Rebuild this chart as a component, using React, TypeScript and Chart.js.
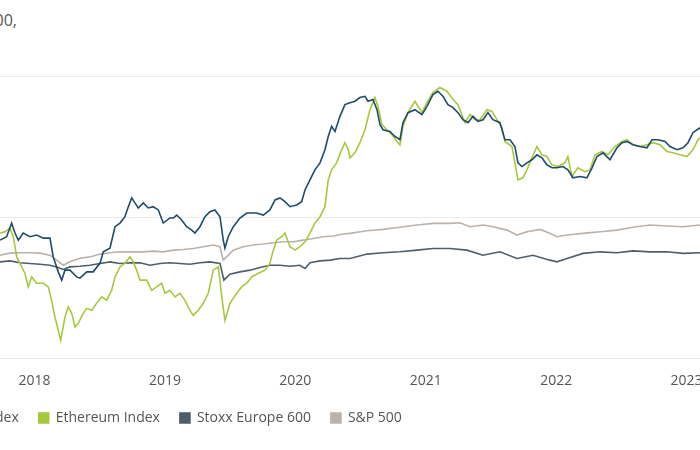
import React, { useEffect, useRef } from "react";
import { Chart, registerables } from "chart.js";

Chart.register(...registerables);

const START_YEAR = 2018;
const YEAR_TICKS = [2018, 2019, 2020, 2021, 2022, 2023];
const Y_GRID = [0, 100, 200];
const X_MIN = 2016.945;
const X_MAX = 2023.847;

// time in years since 1 Jan 2018
const btcT = [
  -0.265, -0.214, -0.176, -0.150, -0.125, -0.087, -0.035, 0.016, 0.067, 0.118,
  0.143, 0.182, 0.208, 0.233, 0.271, 0.323, 0.348, 0.400, 0.450, 0.502,
  0.527, 0.578, 0.617, 0.655, 0.693, 0.719, 0.745, 0.770, 0.795, 0.834,
  0.872, 0.910, 0.949, 0.987, 1.038, 1.064, 1.090, 1.128, 1.166, 1.205,
  1.230, 1.268, 1.307, 1.345, 1.383, 1.422, 1.447, 1.460, 1.485, 1.524,
  1.575, 1.627, 1.665, 1.703, 1.754, 1.805, 1.844, 1.882, 1.920, 1.959,
  2.010, 2.048, 2.074, 2.112, 2.150, 2.189, 2.227, 2.252, 2.278, 2.304,
  2.342, 2.380,
  2.419, 2.457, 2.495, 2.534, 2.557, 2.595, 2.626, 2.649, 2.672, 2.725,
  2.764, 2.802, 2.825, 2.864, 2.917, 2.971, 3.009, 3.055, 3.093, 3.132,
  3.170, 3.209, 3.247, 3.285, 3.324, 3.362, 3.400, 3.439, 3.477, 3.515,
  3.569, 3.607, 3.646, 3.684, 3.707, 3.738, 3.776, 3.814, 3.853, 3.891,
  3.929, 3.968, 4.006, 4.052, 4.090, 4.129, 4.183, 4.236, 4.275, 4.313,
  4.359, 4.413, 4.466, 4.505, 4.543, 4.589, 4.643, 4.696, 4.735, 4.781,
  4.835, 4.873, 4.927, 4.973, 5.011, 5.049, 5.103,
];
const btcValues = [
  83.6, 86.0, 95.7, 88.6, 83.6, 88.6, 86.0, 87.2, 85.0, 85.0,
  71.7, 61.1, 55.2, 62.3, 62.3, 57.5, 56.6, 61.1, 61.1, 67.3,
  75.3, 77.9, 93.1, 95.7, 100.2, 107.3, 113.5, 110.0, 106.4, 110.0,
  106.4, 107.3, 105.0, 95.7, 99.3, 99.3, 101.4, 97.9, 93.1, 90.7,
  88.6, 93.1, 100.2, 103.8, 105.0, 100.2, 83.6, 77.9, 86.0, 93.1,
  99.3, 102.8, 102.8, 102.8, 101.4, 105.0, 112.1, 113.5, 110.9, 107.3,
  108.5, 110.9, 119.2, 126.3, 133.4, 138.4, 147.7, 157.1, 164.3, 160.7,
  171.4, 179.7,
  181.1, 182.1, 184.7, 185.6, 182.1, 183.3, 176.1, 165.5, 161.9, 160.7,
  157.1, 154.8, 166.9, 174.0, 176.1, 172.6, 178.5, 186.8, 189.2, 185.6,
  179.7, 177.6, 174.0, 169.0, 166.9, 171.4, 167.8, 169.0, 174.0, 169.0,
  166.9, 154.8, 154.8, 150.0, 138.4, 135.8, 138.4, 140.6, 144.1, 142.0,
  137.0, 134.9, 134.9, 135.8, 133.4, 127.8, 128.7, 127.8, 134.9, 142.9,
  145.5, 140.6, 149.1, 152.7, 153.6, 151.2, 150.0, 149.1, 154.8, 154.8,
  153.6, 150.0, 147.7, 149.1, 152.7, 159.8, 163.3,
];

const ethT = [
  -0.265, -0.227, -0.189, -0.163, -0.137, -0.099, -0.074, -0.048, -0.022, 0.016,
  0.067, 0.105, 0.131, 0.156, 0.182, 0.200, 0.233, 0.258, 0.285, 0.310,
  0.335, 0.373, 0.400, 0.438, 0.476, 0.515, 0.553, 0.591, 0.617, 0.655,
  0.693, 0.732, 0.757, 0.783, 0.808, 0.860, 0.898, 0.936, 0.975, 1.000,
  1.038, 1.077, 1.115, 1.153, 1.192, 1.217, 1.255, 1.294, 1.332, 1.370,
  1.409, 1.442, 1.460, 1.498, 1.550, 1.588, 1.627, 1.665, 1.716, 1.767,
  1.805, 1.831, 1.857, 1.895, 1.920, 1.959, 1.997, 2.035, 2.074, 2.112,
  2.150, 2.189, 2.227, 2.252, 2.278, 2.316, 2.355, 2.380, 2.406,
  2.419, 2.457, 2.495, 2.534, 2.572, 2.610, 2.633, 2.664, 2.702, 2.741,
  2.779, 2.802, 2.825, 2.864, 2.917, 2.971, 3.009, 3.055, 3.109, 3.163,
  3.209, 3.247, 3.301, 3.339, 3.377, 3.416, 3.469, 3.508, 3.546, 3.584,
  3.607, 3.661, 3.684, 3.707, 3.745, 3.776, 3.814, 3.853, 3.891, 3.929,
  3.968, 4.014, 4.067, 4.090, 4.121, 4.167, 4.221, 4.259, 4.298, 4.351,
  4.397, 4.451, 4.505, 4.543, 4.589, 4.643, 4.696, 4.742, 4.796, 4.850,
  4.896, 4.949, 5.003, 5.049, 5.088, 5.103,
];
const ethValues = [
  88.6, 89.5, 92.2, 86.0, 71.7, 64.6, 60.1, 50.4, 57.5, 53.0,
  53.0, 50.4, 40.9, 29.0, 19.6, 12.5, 29.0, 36.2, 31.7, 21.9,
  24.6, 31.7, 35.2, 33.8, 38.8, 43.3, 40.9, 48.0, 57.5, 64.6,
  67.3, 71.7, 68.2, 62.3, 55.2, 55.2, 48.0, 50.4, 53.0, 45.9,
  48.0, 43.3, 45.9, 40.9, 33.8, 30.2, 33.8, 38.8, 45.9, 62.3,
  64.6, 38.8, 26.7, 38.8, 45.9, 50.4, 53.0, 57.5, 60.1, 62.3,
  67.3, 76.5, 83.6, 86.0, 88.6, 78.9, 76.5, 78.9, 82.4, 88.6,
  95.7, 100.2, 107.3, 126.3, 133.4, 138.4, 147.7, 152.7, 147.7,
  142.0, 145.5, 152.7, 161.9, 176.1, 184.7, 178.5, 165.5, 161.9, 158.4,
  153.6, 151.2, 164.3, 174.0, 182.1, 174.0, 181.1, 188.2, 191.8, 189.2,
  183.3, 179.7, 166.9, 172.6, 169.0, 169.0, 176.1, 174.9, 169.0, 163.3,
  153.6, 150.0, 138.4, 126.3, 127.8, 133.4, 142.0, 150.0, 144.1, 142.9,
  137.0, 135.8, 138.4, 142.9, 128.7, 134.9, 132.2, 133.4, 144.1, 146.5,
  144.1, 150.0, 153.6, 154.8, 151.2, 150.0, 151.2, 152.7, 151.2, 146.5,
  145.5, 144.1, 142.9, 147.7, 154.8, 156.2,
];

const stoxxT = [
  -0.265, -0.189, -0.112, -0.035, 0.041, 0.118, 0.169, 0.220, 0.271, 0.348,
  0.425, 0.502, 0.578, 0.655, 0.732, 0.808, 0.885, 0.962, 1.038, 1.115,
  1.192, 1.268, 1.345, 1.422, 1.452, 1.498, 1.575, 1.652, 1.729, 1.805,
  1.882, 1.959, 2.035, 2.074, 2.112, 2.189, 2.265, 2.342, 2.419, 2.549,
  2.672, 2.802, 2.933, 3.055, 3.186, 3.316, 3.439, 3.569, 3.699, 3.822,
  3.952, 4.006, 4.083, 4.206, 4.336, 4.466, 4.589, 4.719, 4.850, 4.973,
  5.103,
];
const stoxxValues = [
  68.2, 68.9, 67.5, 67.0, 66.5, 65.8, 64.6, 62.8, 64.6, 65.1,
  65.8, 67.0, 68.2, 67.0, 67.5, 67.5, 65.8, 67.0, 67.5, 67.0,
  66.5, 67.5, 68.2, 67.0, 55.2, 59.4, 61.1, 62.3, 64.2, 65.8,
  65.8, 65.1, 65.8, 63.5, 67.5, 68.9, 69.4, 70.6, 70.6, 73.7,
  74.6, 75.3, 76.5, 77.7, 77.7, 76.5, 72.9, 75.3, 70.6, 72.9,
  69.4, 68.2, 70.6, 74.2, 75.3, 74.6, 76.0, 75.3, 75.3, 74.2,
  74.6,
];

const spxT = [
  -0.265, -0.189, -0.112, -0.035, 0.041, 0.118, 0.169, 0.220, 0.271, 0.348,
  0.425, 0.502, 0.578, 0.655, 0.757, 0.834, 0.910, 0.987, 1.064, 1.140,
  1.217, 1.294, 1.370, 1.422, 1.447, 1.473, 1.524, 1.600, 1.677, 1.754,
  1.831, 1.907, 1.984, 2.061, 2.137, 2.214, 2.291, 2.367, 2.419, 2.549,
  2.672, 2.802, 2.933, 3.055, 3.186, 3.262, 3.339, 3.439, 3.515, 3.623,
  3.699, 3.776, 3.876, 3.952, 4.006, 4.083, 4.206, 4.336, 4.466, 4.589,
  4.719, 4.850, 4.973, 5.103,
];
const spxValues = [
  72.9, 74.4, 74.6, 74.6, 74.4, 72.9, 69.4, 65.8, 68.2, 70.8,
  71.7, 73.7, 74.6, 75.3, 75.3, 75.3, 75.8, 75.3, 76.5, 77.0,
  77.7, 78.9, 80.1, 78.9, 69.4, 71.7, 76.5, 78.9, 80.1, 80.8,
  81.7, 82.4, 82.4, 83.6, 84.8, 86.0, 86.5, 87.9, 88.4, 90.2,
  91.2, 92.7, 94.3, 95.5, 95.5, 95.9, 93.1, 94.3, 93.1, 90.7,
  87.2, 89.5, 91.2, 88.4, 86.0, 87.2, 88.4, 89.5, 90.7, 92.7,
  94.3, 93.6, 93.1, 94.3,
];

const SERIES = [
  { label: "Bitcoin Index", t: btcT, v: btcValues, color: "#1e4b69" },
  { label: "Ethereum Index", t: ethT, v: ethValues, color: "#a6c83e" },
  { label: "Stoxx Europe 600", t: stoxxT, v: stoxxValues, color: "#4f5e6b" },
  { label: "S&P 500", t: spxT, v: spxValues, color: "#bab2ab" },
];

const FONT = "'Open Sans', sans-serif";

export default function App() {
  const ref = useRef<HTMLCanvasElement | null>(null);

  useEffect(() => {
    const canvas = ref.current;
    if (!canvas) return;
    const chart = new Chart(canvas, {
      type: "line",
      data: {
        datasets: SERIES.map((s) => ({
          label: s.label,
          data: s.t.map((t, i) => ({ x: START_YEAR + t, y: s.v[i] })),
          borderColor: s.color,
          backgroundColor: s.color,
          borderWidth: 1.6,
          pointRadius: 0,
          tension: 0,
          fill: false,
        })),
      },
      options: {
        animation: false,
        responsive: false,
        maintainAspectRatio: false,
        layout: { padding: { top: 76, bottom: 15, left: 0, right: 0 } },
        plugins: {
          legend: {
            position: "bottom",
            align: "start",
            labels: {
              boxWidth: 10,
              boxHeight: 10,
              padding: 20,
              color: "#555",
              font: { family: FONT, size: 14 },
            },
          },
          tooltip: { enabled: false },
        },
        scales: {
          x: {
            type: "linear",
            min: X_MIN,
            max: X_MAX,
            afterBuildTicks: (scale: any) => {
              scale.ticks = YEAR_TICKS.map((v) => ({ value: v }));
            },
            afterFit: (scale: any) => {
              scale.height -= 5;
            },
            grid: { display: false },
            border: { display: false },
            ticks: {
              padding: 4.5,
              color: "#555",
              autoSkip: false,
              maxRotation: 0,
              font: { family: FONT, size: 14, lineHeight: 1.5 },
              callback: (v: any) => String(v),
            },
          },
          y: {
            min: 0,
            max: 200,
            afterBuildTicks: (scale: any) => {
              scale.ticks = Y_GRID.map((v) => ({ value: v }));
            },
            ticks: { display: false },
            grid: { color: "#ebebeb", drawTicks: false },
            border: { display: false },
          },
        },
      },
    });
    return () => chart.destroy();
  }, []);

  return (
    <div
      style={{
        position: "fixed",
        left: 0,
        top: 0,
        width: 700,
        height: 450,
        overflow: "hidden",
        background: "#fff",
      }}
    >
      <div
        style={{
          position: "absolute",
          right: 683,
          top: 9,
          whiteSpace: "nowrap",
          fontFamily: FONT,
          fontSize: 16,
          color: "#555",
        }}
      >
        Bitcoin Index, Ethereum Index, Stoxx Europe 600,
      </div>
      <canvas
        ref={ref}
        width={900}
        height={450}
        style={{ position: "absolute", left: -103, top: 0, width: 900, height: 450 }}
      />
    </div>
  );
}
